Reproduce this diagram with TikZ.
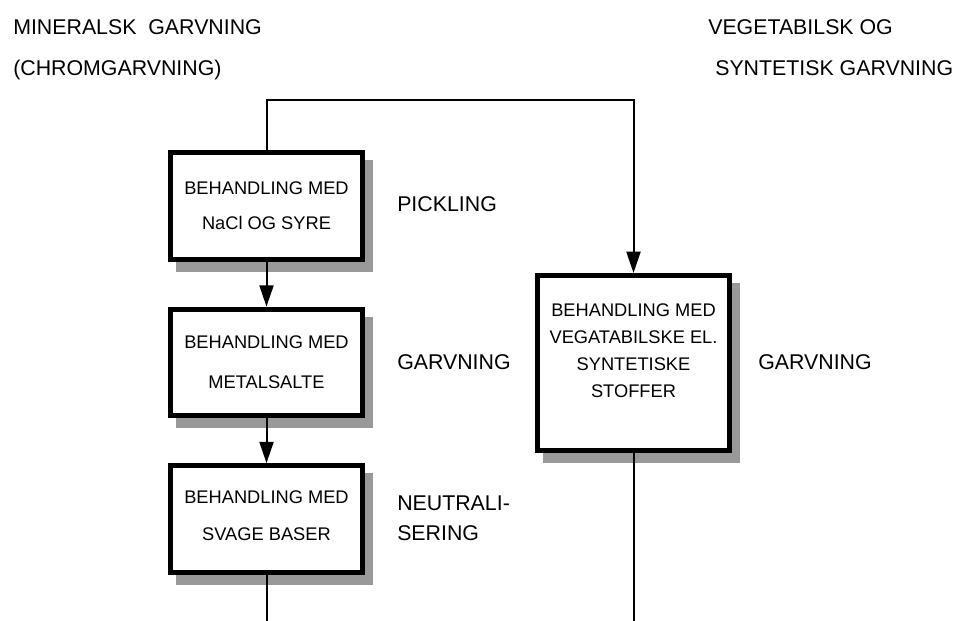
\documentclass[tikz,border=0pt]{standalone}
\usepackage{fontspec}
\setmainfont{Liberation Sans}
\usetikzlibrary{arrows.meta,shadows}

\tikzset{
  stagebox/.style={draw=black, line width=3.75pt, fill=white,
    minimum width=144pt, minimum height=80pt, align=center,
    font=\fontsize{13.7pt}{#1}\selectfont,
    drop shadow={shadow xshift=6pt, shadow yshift=-7.5pt,
      fill=black!40, draw=black!40, line width=3.75pt, opacity=1}},
  steplabel/.style={anchor=base west, align=left, inner sep=0pt,
    font=\fontsize{16pt}{22.5pt}\selectfont},
  flow/.style={draw=black, line width=1.5pt},
  flowarrow/.style={flow, -{Triangle[length=16pt, width=10.5pt]}}
}

\begin{document}
\begin{tikzpicture}[x=0.75pt, y=-0.75pt]
        \useasboundingbox (0,0) rectangle (954,621);

        % Headers
        \node[steplabel] (minhead) at (13,35) {MINERALSK~~GARVNING};
        \node[steplabel] (chromhead) at (13,75) {(CHROMGARVNING)};
        \node[steplabel] (veghead) at (708,35) {VEGETABILSK OG};
        \node[steplabel] (synhead) at (715,75) {SYNTETISK GARVNING};

        % Process boxes
        \node[stagebox=26.25pt] (pickbox) at (266.5,206) {BEHANDLING MED\\NaCl OG SYRE};
        \node[stagebox=30pt] (metalbox) at (266.5,362.5) {BEHANDLING MED\\METALSALTE};
        \node[stagebox=27.75pt, text depth=5pt] (basebox) at (266.5,519) {BEHANDLING MED\\SVAGE BASER};
        \node[stagebox=20.25pt, minimum height=131.25pt, text depth=18.75pt] (vegbox) at (633.5,363)
          {BEHANDLING MED\\VEGATABILSKE EL.\\SYNTETISKE\\STOFFER};

        % Step names
        \node[steplabel] (picklabel) at (397,211.5) {PICKLING};
        \node[steplabel] (garvlabel) at (397,369) {GARVNING};
        \node[steplabel] (neutlabel) at (397,540.5) {NEUTRALI-\\SERING};
        \node[steplabel] (veglabel) at (758,369.5) {GARVNING};

        % Free ends
        \coordinate (split) at (450,100);
        \coordinate (outleft) at (266.5,621);
        \coordinate (outright) at (633.5,621);

        % Connectors
        \draw[flow] (pickbox.north) |- (split);
        \draw[flowarrow] (split) -| (vegbox.north);
        \draw[flowarrow] (pickbox.south) -- (metalbox.north);
        \draw[flowarrow] (metalbox.south) -- (basebox.north);
        \draw[flow] (basebox.south) -- (outleft);
        \draw[flow] (vegbox.south) -- (outright);

    \end{tikzpicture}
\end{document}
